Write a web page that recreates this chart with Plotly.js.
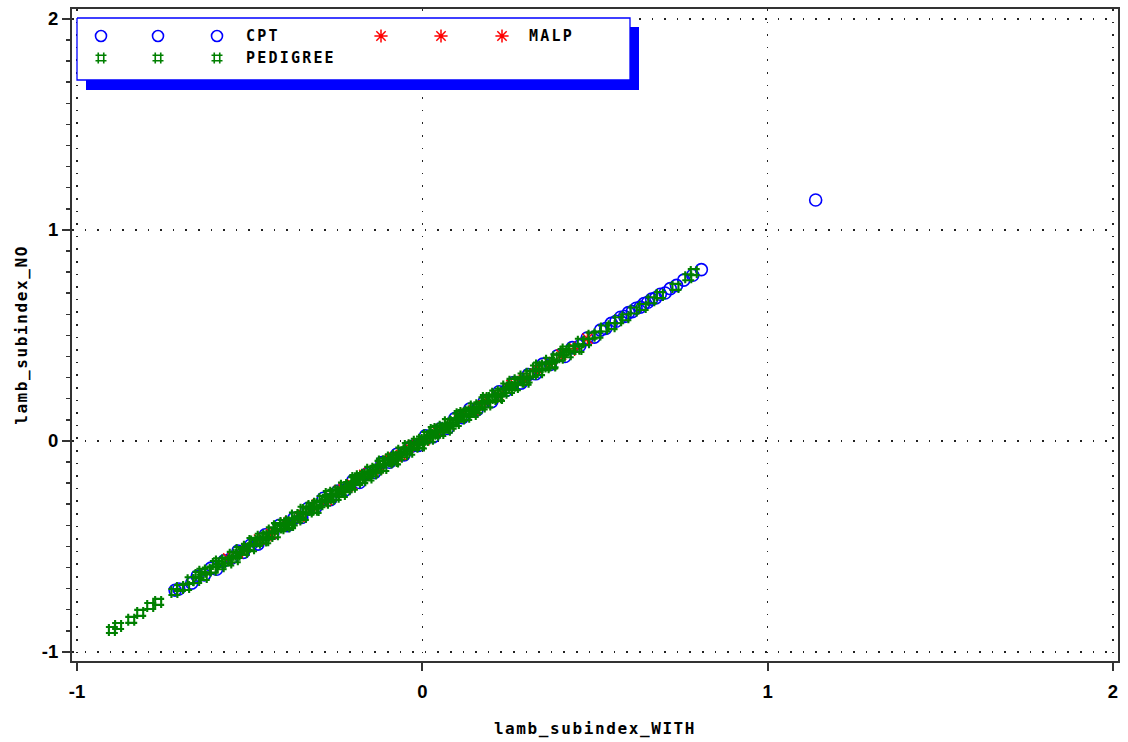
<!DOCTYPE html>
<html>
<head>
<meta charset="utf-8">
<script src="https://cdn.plot.ly/plotly-3.0.1.min.js"></script>
<style>
  html, body { margin: 0; padding: 0; background: #fff; }
  #chart { width: 1128px; height: 742px; }
  .xtitle, .ytitle { letter-spacing: 1.6px; }
  .annotation-text { letter-spacing: 2.2px; }
</style>
</head>
<body>
<div id="chart"></div>
<script>
// ---------------- data ----------------
const seriesNames = ['CPT', 'MALP', 'PEDIGREE'];

const cptX = [-0.716,-0.705,-0.668,-0.652,-0.631,-0.612,-0.596,-0.574,-0.553,-0.534,-0.518,-0.497,-0.476,-0.455,-0.433,-0.414,-0.391,-0.372,-0.349,-0.331,-0.308,-0.287,-0.266,-0.244,-0.223,-0.201,-0.182,-0.159,-0.138,-0.117,-0.095,-0.074,-0.053,-0.031,-0.012,0.009,0.031,0.052,0.073,0.094,0.116,0.137,0.158,0.179,0.201,0.222,0.243,0.264,0.286,0.307,0.328,0.349,0.371,0.392,0.413,0.434,0.456,0.477,0.498,0.516,0.531,0.547,0.561,0.574,0.586,0.597,0.608,0.619,0.631,0.642,0.653,0.664,0.676,0.689,0.703,0.718,0.736,0.757,0.783,0.808,1.139];
const cptY = [-0.708,-0.702,-0.674,-0.641,-0.635,-0.603,-0.608,-0.568,-0.556,-0.522,-0.528,-0.493,-0.489,-0.445,-0.439,-0.400,-0.402,-0.367,-0.363,-0.319,-0.313,-0.272,-0.278,-0.237,-0.232,-0.188,-0.197,-0.155,-0.149,-0.103,-0.101,-0.063,-0.066,-0.025,-0.022,0.024,0.019,0.057,0.059,0.106,0.110,0.151,0.147,0.185,0.186,0.233,0.239,0.277,0.274,0.314,0.318,0.364,0.363,0.404,0.400,0.442,0.451,0.488,0.492,0.525,0.533,0.557,0.567,0.586,0.590,0.608,0.613,0.629,0.634,0.651,0.657,0.672,0.678,0.695,0.701,0.722,0.737,0.762,0.785,0.812,1.142];

const malpX = [-0.562,-0.521,-0.473,-0.438,-0.397,-0.356,-0.318,-0.276,-0.241,-0.203,-0.168,-0.131,-0.094,-0.062,-0.027,0.006,0.041,0.078,0.112,0.149,0.183,0.221,0.258,0.294,0.333,0.369,0.402,0.441,0.478];
const malpY = [-0.557,-0.524,-0.468,-0.441,-0.391,-0.360,-0.311,-0.280,-0.234,-0.207,-0.161,-0.135,-0.088,-0.066,-0.020,0.003,0.047,0.074,0.119,0.145,0.190,0.217,0.265,0.290,0.340,0.365,0.409,0.437,0.485];

const pedX = [-0.899,-0.881,-0.843,-0.817,-0.788,-0.765,-0.718,-0.702,-0.684,-0.671,-0.655,-0.648,-0.633,-0.621,-0.607,-0.598,-0.584,-0.571,-0.562,-0.549,-0.538,-0.529,-0.517,-0.508,-0.496,-0.487,-0.479,-0.468,-0.461,-0.452,-0.443,-0.436,-0.427,-0.418,-0.411,-0.402,-0.394,-0.386,-0.378,-0.369,-0.362,-0.353,-0.346,-0.337,-0.329,-0.321,-0.314,-0.305,-0.298,-0.289,-0.282,-0.274,-0.266,-0.258,-0.251,-0.243,-0.236,-0.227,-0.219,-0.212,-0.204,-0.197,-0.189,-0.181,-0.174,-0.166,-0.158,-0.151,-0.143,-0.136,-0.128,-0.121,-0.113,-0.105,-0.098,-0.091,-0.083,-0.076,-0.068,-0.061,-0.053,-0.046,-0.038,-0.031,-0.023,-0.016,-0.008,-0.001,0.007,0.014,0.022,0.029,0.037,0.044,0.052,0.059,0.067,0.074,0.082,0.089,0.097,0.104,0.112,0.119,0.127,0.134,0.142,0.149,0.157,0.165,0.172,0.180,0.188,0.195,0.203,0.211,0.219,0.227,0.235,0.243,0.251,0.259,0.268,0.276,0.285,0.293,0.302,0.311,0.320,0.329,0.338,0.348,0.357,0.367,0.377,0.388,0.398,0.409,0.421,0.433,0.446,0.459,0.474,0.490,0.507,0.526,0.548,0.567,0.588,0.612,0.638,0.663,0.688,0.733,0.770,0.786,
  -0.492,-0.455,-0.421,-0.383,-0.344,-0.309,-0.271,-0.233,-0.194,-0.156,-0.117,-0.079,-0.042,-0.004,0.033,0.071,0.108,0.146,0.184,0.222,0.261,0.299,0.338,0.376,0.415,0.452,-0.589,-0.543,-0.637];
const pedY = [-0.896,-0.877,-0.848,-0.815,-0.782,-0.763,-0.716,-0.697,-0.692,-0.660,-0.659,-0.635,-0.645,-0.614,-0.610,-0.583,-0.594,-0.567,-0.576,-0.540,-0.540,-0.517,-0.526,-0.502,-0.509,-0.477,-0.483,-0.454,-0.472,-0.449,-0.450,-0.424,-0.442,-0.410,-0.414,-0.389,-0.406,-0.381,-0.386,-0.354,-0.372,-0.351,-0.360,-0.327,-0.334,-0.308,-0.326,-0.298,-0.300,-0.275,-0.293,-0.270,-0.275,-0.246,-0.265,-0.235,-0.240,-0.212,-0.229,-0.209,-0.217,-0.186,-0.195,-0.168,-0.186,-0.160,-0.161,-0.137,-0.154,-0.132,-0.136,-0.109,-0.128,-0.096,-0.102,-0.078,-0.095,-0.070,-0.075,-0.046,-0.063,-0.044,-0.051,-0.021,-0.028,-0.004,-0.019,0.006,0.004,0.028,0.010,0.034,0.029,0.057,0.038,0.067,0.063,0.089,0.072,0.092,0.085,0.115,0.106,0.132,0.114,0.140,0.140,0.163,0.146,0.169,0.163,0.192,0.173,0.204,0.199,0.224,0.207,0.233,0.228,0.258,0.241,0.262,0.255,0.287,0.280,0.305,0.291,0.318,0.317,0.343,0.326,0.353,0.349,0.380,0.363,0.396,0.394,0.421,0.411,0.437,0.437,0.470,0.468,0.499,0.504,0.533,0.544,0.572,0.586,0.618,0.635,0.667,0.691,0.730,0.776,0.800,
  -0.474,-0.471,-0.404,-0.399,-0.326,-0.327,-0.252,-0.251,-0.176,-0.173,-0.098,-0.097,-0.024,-0.022,0.052,0.053,0.127,0.128,0.203,0.204,0.280,0.281,0.357,0.358,0.433,0.436,-0.571,-0.561,-0.620];

const xTickVals = [-1, 0, 1, 2];
const xTickText = ['-1', '0', '1', '2'];
const yTickVals = [-1, 0, 1, 2];
const yTickText = ['-1', '0', '1', '2'];
const xTitle = 'lamb_subindex_WITH';
const yTitle = 'lamb_subindex_NO';

// ---------------- styles / layout constants ----------------
const W = 1128, H = 742;
const M = { l: 72, r: 10, t: 9, b: 81 };
const BLUE = '#0000ff', RED = '#ff0000', GREEN = '#008000';
const styles = [
  { symbol: 'circle-open',   color: BLUE,  size: 12, lw: 1.6 },
  { symbol: 'asterisk-open', color: RED,   size: 12, lw: 1.5 },
  { symbol: 'hash-open',     color: GREEN, size: 12, lw: 2.1 }
];
const seriesData = [[cptX, cptY], [malpX, malpY], [pedX, pedY]];

// legend geometry in page pixels
const LEG = { x0: 77, y0: 18, x1: 630, y1: 80, shadow: 9 };
const legendItems = [
  { s: 0, cols: [101, 158, 217], textX: 244, rowY: 36 },
  { s: 1, cols: [381, 441, 502], textX: 527, rowY: 36 },
  { s: 2, cols: [101, 158, 217], textX: 244, rowY: 58 }
];

const traces = seriesData.map((d, i) => ({
  type: 'scatter', mode: 'markers', name: seriesNames[i],
  x: d[0], y: d[1], xaxis: 'x', yaxis: 'y',
  marker: { symbol: styles[i].symbol, size: styles[i].size,
            color: styles[i].color, line: { color: styles[i].color, width: styles[i].lw } },
  hoverinfo: 'skip', showlegend: false
}));

// legend frame (shadow + white box) as filled outlines on the pixel overlay axes
function rectPath(x0, y0, x1, y1) { return { x: [x0, x1, x1, x0, x0], y: [y0, y0, y1, y1, y0] }; }
const sh = rectPath(LEG.x0 + LEG.shadow, LEG.y0 + LEG.shadow, LEG.x1 + LEG.shadow, LEG.y1 + LEG.shadow + 1);
traces.push({ type: 'scatter', mode: 'lines', xaxis: 'x2', yaxis: 'y2', x: sh.x, y: sh.y,
  fill: 'toself', fillcolor: BLUE, line: { width: 0, color: BLUE }, hoverinfo: 'skip', showlegend: false });
const bx = rectPath(LEG.x0, LEG.y0, LEG.x1, LEG.y1);
traces.push({ type: 'scatter', mode: 'lines', xaxis: 'x2', yaxis: 'y2', x: bx.x, y: bx.y,
  fill: 'toself', fillcolor: '#ffffff', line: { width: 1.3, color: BLUE }, hoverinfo: 'skip', showlegend: false });

legendItems.forEach(it => {
  const st = styles[it.s];
  traces.push({
    type: 'scatter', mode: 'markers', xaxis: 'x2', yaxis: 'y2',
    x: it.cols, y: it.cols.map(() => it.rowY),
    marker: { symbol: st.symbol, size: st.size - 1, color: st.color, line: { color: st.color, width: Math.min(st.lw, 1.6) } },
    hoverinfo: 'skip', showlegend: false
  });
});

const tickFont = { family: 'Liberation Sans, Arial, sans-serif', size: 18.5, weight: 'bold', color: '#000' };
const titleFont = { family: 'DejaVu Sans Mono, monospace', size: 16, weight: 'bold', color: '#000' };

const axisCommon = {
  showline: true, linecolor: '#333', linewidth: 2, mirror: true,
  ticks: 'outside', ticklen: 8, tickwidth: 2, tickcolor: '#333',
  showgrid: true, gridcolor: '#222', gridwidth: 1.6, griddash: '1.6px,11px',
  zeroline: false, tickfont: tickFont, tickmode: 'array', fixedrange: true
};

const layout = {
  width: W, height: H, margin: M,
  paper_bgcolor: '#fff', plot_bgcolor: '#fff', showlegend: false,
  xaxis: Object.assign({}, axisCommon, {
    range: [-1.0145, 2.0145], tickvals: xTickVals, ticktext: xTickText,
    ticklabelstandoff: 5,
    title: { text: xTitle, font: titleFont, standoff: 22 }
  }),
  yaxis: Object.assign({}, axisCommon, {
    range: [-1.043, 2.047], tickvals: yTickVals, ticktext: yTickText,
    minor: { dtick: 0.1, ticks: 'outside', ticklen: 4, tickwidth: 1.5, tickcolor: '#333', showgrid: false },
    title: { text: yTitle, font: titleFont, standoff: 10 }
  }),
  xaxis2: { overlaying: 'x', range: [M.l, W - M.r], visible: false, fixedrange: true },
  yaxis2: { overlaying: 'y', range: [H - M.b, M.t], visible: false, fixedrange: true },
  annotations: legendItems.map(it => ({
    xref: 'x2', yref: 'y2', x: it.textX, y: it.rowY, xanchor: 'left', yanchor: 'middle',
    text: seriesNames[it.s], showarrow: false,
    font: { family: 'DejaVu Sans Mono, monospace', size: 15, weight: 'bold', color: '#000' }
  }))
};

Plotly.newPlot('chart', traces, layout, { displayModeBar: false, staticPlot: true });
</script>
</body>
</html>
